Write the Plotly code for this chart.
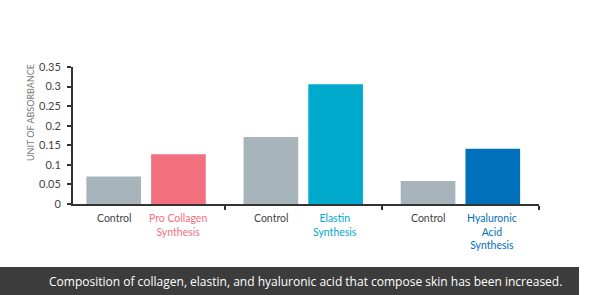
import plotly.graph_objects as go

groups = ["Collagen", "Elastin", "Hyaluronic"]
control_values = [0.070, 0.171, 0.059]
treatment_values = [0.127, 0.306, 0.141]
treatment_labels = ["Pro Collagen<br>Synthesis", "Elastin<br>Synthesis", "Hyaluronic<br>Acid<br>Synthesis"]
treatment_colors = ["#f2707d", "#00aacc", "#0070bb"]
control_color = "#a7b4bc"
y_tickvals = [0, 0.05, 0.1, 0.15, 0.2, 0.25, 0.3, 0.35]
y_ticktext = ["0", "0.05", "0.1", "0.15", "0.2", "0.25", "0.3", "0.35"]
caption = "Composition of collagen, elastin, and hyaluronic acid that compose skin has been increased."

W, H = 600, 295
ML, MR, MT, MB = 73, 61, 67, 91
pw = W - ML - MR
ph = H - MT - MB

fig = go.Figure()
fig.add_trace(go.Bar(x=groups, y=control_values, marker_color=control_color,
                     marker_line_width=0, name="Control"))
fig.add_trace(go.Bar(x=groups, y=treatment_values, marker_color=treatment_colors,
                     marker_line_width=0, name="Treatment"))

font_family = "Lato, 'Open Sans', sans-serif"

annotations = []
for i, g in enumerate(groups):
    annotations.append(dict(x=g, xref="x", y=0, yref="paper", xshift=-32, yshift=-6,
                            yanchor="top", xanchor="center", showarrow=False,
                            text="Control", font=dict(size=10.5, color="#444444", family=font_family)))
    annotations.append(dict(x=g, xref="x", y=0, yref="paper", xshift=32, yshift=-6,
                            yanchor="top", xanchor="center", showarrow=False,
                            text=treatment_labels[i],
                            font=dict(size=10.5, color=treatment_colors[i], family=font_family)))

# y-axis title
annotations.append(dict(x=(30 - ML) / pw, xref="paper", y=(MT + ph - 113) / ph, yref="paper",
                        text="UNIT OF ABSORBANCE", textangle=-90, showarrow=False,
                        xanchor="center", yanchor="middle",
                        font=dict(size=9, color="#777777", family=font_family)))

# caption
annotations.append(dict(x=(305 - ML) / pw, xref="paper", y=(MT + ph - 281) / ph, yref="paper",
                        text=caption, showarrow=False, xanchor="center", yanchor="middle",
                        font=dict(size=12, color="#ffffff", family="'Open Sans', sans-serif")))

shapes = [dict(type="rect", xref="paper", yref="paper",
               x0=(0 - ML) / pw, x1=(579 - ML) / pw,
               y0=(MT + ph - 295) / ph, y1=(MT + ph - 267) / ph,
               fillcolor="#3c3c3c", line_width=0, layer="below")]

fig.update_layout(
    width=W, height=H,
    margin=dict(l=ML, r=MR, t=MT, b=MB, pad=0),
    paper_bgcolor="white", plot_bgcolor="white",
    barmode="group", bargap=0.176, bargroupgap=0.156,
    showlegend=False,
    annotations=annotations, shapes=shapes,
    font=dict(family=font_family),
    xaxis=dict(type="category", range=[-0.465, 2.5], showticklabels=False,
               tickson="boundaries", ticks="outside", ticklen=4, tickwidth=1.5,
               tickcolor="#333333", showline=True, linecolor="#333333", linewidth=2,
               showgrid=False, zeroline=False, fixedrange=True),
    yaxis=dict(range=[0, 0.35], tickvals=y_tickvals, ticktext=y_ticktext,
               ticks="outside", ticklen=4, tickwidth=1.5, tickcolor="#333333",
               showline=True, linecolor="#333333", linewidth=2,
               showgrid=False, zeroline=False,
               tickfont=dict(size=11, color="#444444", family=font_family),
               ticklabelstandoff=4, fixedrange=True),
)

fig.write_html("out.html", config={"displayModeBar": False})
